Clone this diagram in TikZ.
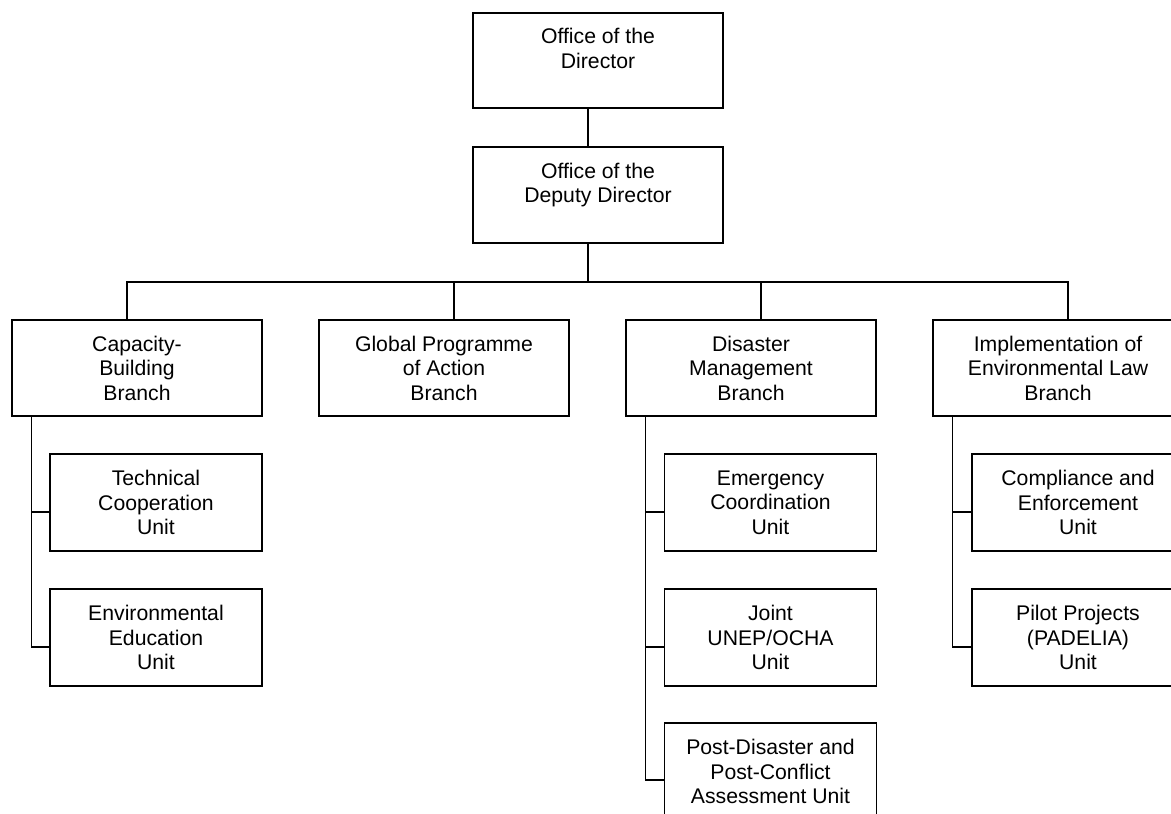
\documentclass[tikz,border=0pt]{standalone}
\usepackage{fontspec}
\setmainfont{Liberation Sans}
\begin{document}
\begin{tikzpicture}[x=1pt,y=-1pt,
  every node/.style={font=\fontsize{21.2}{24.5}\selectfont},
  box/.style={draw=black, line width=1.4pt, align=center, inner sep=0pt, fill=white},
  top/.style={box, minimum width=250pt, minimum height=96pt},
  branch/.style={box, minimum width=250pt, minimum height=96pt},
  unit/.style={box, minimum width=212pt, minimum height=97pt},
  link/.style={line width=1.4pt, draw=black}]
\useasboundingbox (0,0) rectangle (1171,814);
\clip (0,0) rectangle (1171,814);
\fill[white] (0,0) rectangle (1171,814);

% top
\node[top, minimum height=95pt] (dir) at (598,60.5) {Office of the\\Director\\\mbox{}};
\node[top] (dep) at (598,195) {Office of the\\Deputy Director\\\mbox{}};

% branches
\node[branch] (cap) at (137,368) {Capacity-\\Building\\Branch};
\node[branch] (gpa) at (444,368) {Global Programme\\of Action\\Branch};
\node[branch] (dis) at (751,368) {Disaster\\Management\\Branch};
\node[branch] (imp) at (1058,368) {Implementation of\\Environmental Law\\Branch};

% units
\node[unit] (tech) at (156,502.5) {Technical\\Cooperation\\Unit};
\node[unit] (envd) at (156,637.5) {Environmental\\Education\\Unit};
\node[unit] (emer) at (770.5,502.5) {Emergency\\Coordination\\Unit};
\node[unit] (joint) at (770.5,637.5) {Joint\\UNEP/OCHA\\Unit};
\node[unit] (post) at (770.5,771.5) {Post-Disaster and\\Post-Conflict\\Assessment Unit};
\node[unit] (comp) at (1078,502.5) {Compliance and\\Enforcement\\Unit};
\node[unit] (pilot) at (1078,637.5) {Pilot Projects\\(PADELIA)\\Unit};

% connectors
\coordinate (bus) at (588,282);
\draw[link] ([xshift=-10pt]dir.south) -- ([xshift=-10pt]dep.north);
\draw[link] ([xshift=-10pt]dep.south) -- (bus);
\draw[link] ([xshift=-10pt]cap.north) |- (bus);
\draw[link] (bus) -| ([xshift=10pt]imp.north);
\draw[link] ([xshift=10pt]gpa.north) -- ([xshift=10pt]gpa.north |- bus);
\draw[link] ([xshift=10pt]dis.north) -- ([xshift=10pt]dis.north |- bus);

% unit spines
\draw[link] ([xshift=20pt]cap.south west) |- ([yshift=-9.5pt]envd.west);
\draw[link] ([xshift=20pt]cap.south west |- tech.west) ++(0,9.5) -- ([yshift=-9.5pt]tech.west);
\draw[link] ([xshift=20pt]dis.south west) |- ([yshift=-8.5pt]post.west);
\draw[link] ([xshift=20pt]dis.south west |- emer.west) ++(0,9.5) -- ([yshift=-9.5pt]emer.west);
\draw[link] ([xshift=20pt]dis.south west |- joint.west) ++(0,9.5) -- ([yshift=-9.5pt]joint.west);
\draw[link] ([xshift=20pt]imp.south west) |- ([yshift=-9.5pt]pilot.west);
\draw[link] ([xshift=20pt]imp.south west |- comp.west) ++(0,9.5) -- ([yshift=-9.5pt]comp.west);
\end{tikzpicture}
\end{document}
